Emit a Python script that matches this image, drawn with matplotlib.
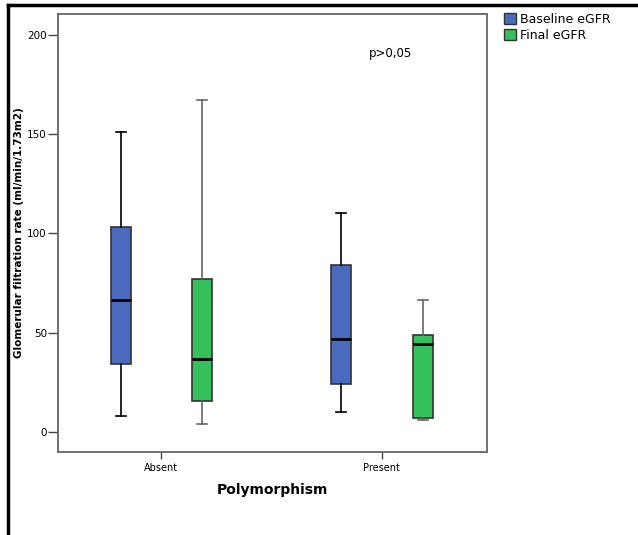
import matplotlib.pyplot as plt
from matplotlib.lines import Line2D
from matplotlib.patches import Patch

# Daten
groups = ["Absent", "Present"]
series = ["Baseline eGFR", "Final eGFR"]
colors = ["#4a6bbd", "#35c05c"]

# je Gruppe: [whislo, q1, med, q3, whishi]
baseline = [[7.7, 33.9, 66.3, 103.3, 151.4],
            [10.0, 23.8, 46.6, 84.2, 110.5]]
final = [[3.9, 15.3, 36.8, 76.8, 167.6],
         [5.6, 6.6, 44.4, 48.8, 66.5]]

yticks = [0, 50, 100, 150, 200]

fig = plt.figure(figsize=(6.38, 5.35), dpi=100)
ax = fig.add_axes([0.0909, 0.156, 0.6724, 0.817])

offsets = [-0.183, 0.185]
for s, (vals, col, off) in enumerate(zip([baseline, final], colors, offsets)):
    stats = []
    for g, v in enumerate(vals):
        stats.append(dict(whislo=v[0], q1=v[1], med=v[2], q3=v[3], whishi=v[4], fliers=[]))
    wcol = "black" if s == 0 else "#666666"
    ax.bxp(stats, positions=[g + off for g in range(len(groups))], widths=0.09,
           capwidths=0.045, patch_artist=True, showfliers=False,
           boxprops=dict(facecolor=col, edgecolor="#333333", linewidth=1.2),
           medianprops=dict(color="black", linewidth=2),
           whiskerprops=dict(color=wcol, linewidth=1.2),
           capprops=dict(color=wcol, linewidth=1.2))

ax.set_xlim(-0.468, 1.477)
ax.set_ylim(-10.1, 210.6)
ax.set_xticks(range(len(groups)))
ax.set_xticklabels(groups, fontsize=7)
ax.set_yticks(yticks)
ax.set_yticklabels([str(t) for t in yticks], fontsize=7.5)
ax.tick_params(axis="y", direction="out", length=7, width=1, color="#444444", pad=1)
ax.tick_params(axis="x", direction="out", length=5, width=1, color="#444444")

for sp in ax.spines.values():
    sp.set_color("#666666")
    sp.set_linewidth(1.3)

ax.set_xlabel("Polymorphism", fontsize=10, fontweight="bold", labelpad=7)
ax.set_ylabel("Glomerular filtration rate (ml/min/1.73m2)", fontsize=7.5, fontweight="bold", labelpad=2)

ax.text(1.04, 191, "p>0,05", fontsize=8.5, ha="center", va="center")

handles = [Patch(facecolor=c, edgecolor="#333333", label=l) for c, l in zip(colors, series)]
fig.legend(handles=handles, loc="upper left", bbox_to_anchor=(0.782, 0.985), frameon=False,
           fontsize=9, handlelength=1.0, handleheight=1.0, handletextpad=0.3,
           labelspacing=0.2, borderaxespad=0)

# schwarzer Rahmen oben und links
fig.add_artist(Line2D([0.012, 1.0], [0.991, 0.991], color="black", linewidth=2.5))
fig.add_artist(Line2D([0.012, 0.012], [0.0, 0.991], color="black", linewidth=2.5))

fig.savefig("out.png", dpi=100)
